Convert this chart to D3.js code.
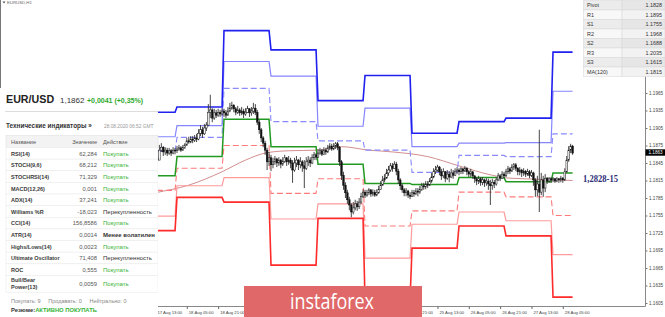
<!DOCTYPE html>
<html><head><meta charset="utf-8">
<script src="https://cdn.jsdelivr.net/npm/d3@7"></script>
<style>html,body{margin:0;padding:0;background:#fff;overflow:hidden}svg{display:block;font-family:"Liberation Sans",Arial,sans-serif}</style>
</head><body><svg id="c" width="665" height="317"></svg>
<script>
// ---------- DATA ----------
// hourly bars, trading-hour index t (17 Aug 00:00 = 0, each trading day = 24 bars)
const firstBar = 13;
const firstOpen = 1.1852;
const closes = [
1.1854,1.1850,1.1867,1.1872,1.1864,1.1867,1.1862,1.1866,1.1862,1.1867,1.1866,
1.1869,1.1871,1.1867,1.1872,1.1876,1.1883,1.1881,1.1886,1.1884,1.1888,1.1886,1.1896,1.1902,1.1895,1.1905,1.1910,1.1932,1.1936,1.1922,1.1931,1.1927,1.1932,1.1929,1.1934,
1.1931,1.1927,1.1934,1.1939,1.1944,1.1938,1.1932,1.1936,1.1931,1.1934,1.1929,1.1932,1.1938,1.1931,1.1934,1.1939,1.1932,1.1915,1.1902,1.1888,1.1879,1.1867,1.1847,1.1854,
1.1842,1.1847,1.1852,1.1845,1.1850,1.1843,1.1848,1.1854,1.1847,1.1850,1.1845,1.1833,1.1845,1.1850,1.1842,1.1847,1.1840,1.1836,1.1847,1.1850,1.1845,1.1854,1.1859,1.1855,
1.1862,1.1866,1.1860,1.1867,1.1864,1.1871,1.1874,1.1869,1.1874,1.1878,1.1872,1.1847,1.1824,1.1807,1.1794,1.1782,1.1773,1.1761,1.1768,1.1775,1.1770,1.1778,1.1788,1.1795,
1.1790,1.1794,1.1799,1.1792,1.1795,1.1790,1.1794,1.1800,1.1807,1.1816,1.1819,1.1828,1.1833,1.1840,1.1836,1.1843,1.1831,1.1816,1.1806,1.1799,1.1794,1.1797,1.1790,1.1788,
1.1794,1.1792,1.1797,1.1795,1.1800,1.1806,1.1804,1.1809,1.1807,1.1814,1.1821,1.1830,1.1833,1.1838,1.1830,1.1823,1.1830,1.1819,1.1826,1.1821,1.1828,1.1824,1.1831,1.1833,
1.1830,1.1835,1.1831,1.1836,1.1830,1.1826,1.1830,1.1823,1.1818,1.1814,1.1818,1.1812,1.1816,1.1811,1.1814,1.1809,1.1806,1.1812,1.1809,1.1816,1.1823,1.1819,1.1826,1.1823,
1.1830,1.1835,1.1831,1.1838,1.1842,1.1836,1.1830,1.1833,1.1828,1.1831,1.1826,1.1830,1.1824,1.1828,1.1816,1.1799,1.1809,1.1795,1.1816,1.1802,1.1819,1.1814,1.1818,1.1816,
1.1818,1.1814,1.1818,1.1816,1.1819,1.1816,1.1830,1.1850,1.1867,1.1874,1.1862];
const highs = [
1.1864,1.1867,1.1876,1.1879,1.1874,1.1872,1.1871,1.1871,1.1869,1.1872,1.1871,
1.1874,1.1876,1.1874,1.1876,1.1879,1.1888,1.1890,1.1891,1.1891,1.1893,1.1895,1.1903,1.1910,1.1907,1.1912,1.1915,1.1946,1.1962,1.1939,1.1938,1.1936,1.1938,1.1936,1.1939,
1.1938,1.1936,1.1941,1.1948,1.1950,1.1946,1.1941,1.1943,1.1939,1.1941,1.1938,1.1939,1.1943,1.1939,1.1941,1.1948,1.1946,1.1936,1.1919,1.1905,1.1891,1.1883,1.1871,1.1864,
1.1859,1.1854,1.1857,1.1854,1.1855,1.1852,1.1855,1.1859,1.1855,1.1857,1.1854,1.1850,1.1854,1.1857,1.1852,1.1855,1.1850,1.1850,1.1855,1.1857,1.1855,1.1860,1.1864,1.1862,
1.1869,1.1871,1.1869,1.1872,1.1871,1.1876,1.1879,1.1878,1.1879,1.1881,1.1881,1.1874,1.1850,1.1830,1.1812,1.1799,1.1787,1.1776,1.1778,1.1782,1.1780,1.1785,1.1794,1.1800,
1.1799,1.1799,1.1802,1.1800,1.1800,1.1799,1.1800,1.1806,1.1814,1.1823,1.1826,1.1835,1.1840,1.1845,1.1845,1.1848,1.1847,1.1835,1.1819,1.1809,1.1802,1.1802,1.1799,1.1795,
1.1799,1.1799,1.1802,1.1802,1.1806,1.1811,1.1811,1.1814,1.1814,1.1819,1.1828,1.1836,1.1840,1.1842,1.1840,1.1835,1.1836,1.1831,1.1833,1.1831,1.1835,1.1833,1.1836,1.1838,
1.1836,1.1838,1.1836,1.1840,1.1838,1.1833,1.1835,1.1831,1.1824,1.1821,1.1823,1.1821,1.1821,1.1818,1.1819,1.1818,1.1816,1.1818,1.1816,1.1821,1.1828,1.1826,1.1831,1.1830,
1.1835,1.1840,1.1838,1.1843,1.1845,1.1845,1.1838,1.1838,1.1835,1.1836,1.1833,1.1835,1.1833,1.1833,1.1830,1.1819,1.1823,1.1902,1.1828,1.1823,1.1826,1.1821,1.1821,1.1821,
1.1821,1.1819,1.1821,1.1819,1.1823,1.1821,1.1836,1.1857,1.1874,1.1878,1.1876];
const lows = [
1.1847,1.1833,1.1850,1.1864,1.1857,1.1859,1.1857,1.1859,1.1857,1.1860,1.1860,
1.1862,1.1866,1.1864,1.1866,1.1869,1.1874,1.1878,1.1879,1.1879,1.1881,1.1881,1.1884,1.1891,1.1888,1.1893,1.1900,1.1908,1.1922,1.1915,1.1919,1.1922,1.1924,1.1924,1.1926,
1.1924,1.1922,1.1926,1.1932,1.1936,1.1932,1.1927,1.1929,1.1926,1.1927,1.1922,1.1926,1.1931,1.1924,1.1926,1.1929,1.1927,1.1910,1.1895,1.1881,1.1872,1.1859,1.1833,1.1840,
1.1831,1.1836,1.1842,1.1838,1.1840,1.1836,1.1840,1.1845,1.1840,1.1842,1.1836,1.1811,1.1830,1.1838,1.1833,1.1836,1.1830,1.1802,1.1833,1.1840,1.1838,1.1843,1.1850,1.1850,
1.1854,1.1859,1.1857,1.1859,1.1859,1.1862,1.1867,1.1866,1.1867,1.1869,1.1867,1.1840,1.1816,1.1799,1.1785,1.1775,1.1764,1.1752,1.1757,1.1764,1.1763,1.1766,1.1775,1.1785,
1.1785,1.1787,1.1790,1.1787,1.1788,1.1787,1.1788,1.1792,1.1799,1.1806,1.1812,1.1818,1.1823,1.1830,1.1830,1.1835,1.1824,1.1809,1.1799,1.1794,1.1788,1.1788,1.1785,1.1783,
1.1787,1.1787,1.1790,1.1788,1.1792,1.1797,1.1799,1.1800,1.1802,1.1806,1.1811,1.1819,1.1826,1.1830,1.1824,1.1816,1.1819,1.1812,1.1816,1.1812,1.1819,1.1818,1.1823,1.1826,
1.1824,1.1826,1.1826,1.1830,1.1824,1.1821,1.1821,1.1818,1.1811,1.1807,1.1809,1.1806,1.1807,1.1804,1.1806,1.1799,1.1773,1.1799,1.1802,1.1806,1.1814,1.1814,1.1818,1.1818,
1.1821,1.1826,1.1826,1.1830,1.1833,1.1831,1.1824,1.1824,1.1821,1.1823,1.1821,1.1823,1.1819,1.1821,1.1806,1.1787,1.1788,1.1761,1.1790,1.1787,1.1795,1.1809,1.1811,1.1811,
1.1812,1.1811,1.1812,1.1811,1.1812,1.1811,1.1814,1.1828,1.1847,1.1862,1.1859];

// daily pivot levels, 17,18,19,20,21,24,25,26,27,28 Aug
const lastBar = 226;
const pivR3 = [1.1932,1.1941,1.2072,1.2039,1.1952,1.1995,1.1896,1.1916,1.1922,1.2035];
const pivR2 = [1.1890,1.1909,1.2019,1.1994,1.1908,1.1939,1.1873,1.1879,1.1880,1.1968];
const pivR1 = [1.1865,1.1889,1.1973,1.1916,1.1883,1.1867,1.1829,1.1858,1.1856,1.1895];
const pivP  = [1.1823,1.1856,1.1920,1.1873,1.1843,1.1810,1.1808,1.1820,1.1813,1.1828];
const pivS1 = [1.1798,1.1836,1.1875,1.1793,1.1818,1.1737,1.1763,1.1795,1.1787,1.1755];
const pivS2 = [1.1754,1.1806,1.1820,1.1749,1.1775,1.1682,1.1740,1.1761,1.1746,1.1688];
const pivS3 = [1.1729,1.1786,1.1778,1.1670,1.1750,1.1610,1.1699,1.1737,1.1720,1.1615];

// MA(120) readings
const maT = [0,13,30,47,59,69,81,96,108,122,134,152,168,185,194,211,226];
const maV = [1.1785,1.1794,1.1807,1.1830,1.1850,1.1862,1.1866,1.1867,1.1873,1.1867,1.1864,1.1856,1.1840,1.1824,1.1819,1.1817,1.1815];

// axes
const yTicks = [1.1605,1.1635,1.1665,1.1695,1.1725,1.1755,1.1785,1.1815,1.1845,1.1875,1.1905,1.1935,1.1965];
const xTickT = [13,29,45,61,77,93,109,125,141,157,173,189,205,221];
const xTickLabels = ["17 Aug 13:00","18 Aug 05:00","18 Aug 21:00","19 Aug 13:00","20 Aug 05:00","20 Aug 21:00","21 Aug 13:00","24 Aug 05:00","24 Aug 21:00","25 Aug 13:00","26 Aug 05:00","26 Aug 21:00","27 Aug 13:00","28 Aug 05:00"];
const currentPrice = "1.1863";

// left panel
const indNames = ["RSI(14)","STOCH(9,6)","STOCHRSI(14)","MACD(12,26)","ADX(14)","Williams %R","CCI(14)","ATR(14)","Highs/Lows(14)","Ultimate Oscillator","ROC","Bull/Bear Power(13)"];
const indValues = ["62,284","68,212","71,329","0,001","37,241","-18,023","156,8586","0,0014","0,0023","71,408","0,555","0,0059"];
const indActions = ["Покупать","Покупать","Покупать","Покупать","Покупать","Перекупленность","Покупать","Менее волатилен","Покупать","Перекупленность","Покупать","Покупать"];

// pivot table
const tblNames = ["Pivot","R1","S1","R2","S2","R3","S3","MA(120)"];
const tblValues = ["1.1828","1.1895","1.1755","1.1968","1.1688","1.2035","1.1615","1.1815"];

// ---------- DRAW ----------
const svg = d3.select("#c");
const x = d3.scaleLinear().domain([0, lastBar]).range([130, 572.6]);
const y = d3.scaleLinear().domain([1.1605, 1.1965]).range([303, 93]);
const logo = {x0:244, x1:422, y0:286};

svg.append("rect").attr("width",665).attr("height",317).attr("fill","#fff");

// MA
svg.append("path").datum(maT.map((t,i)=>[t,maV[i]]))
  .attr("d", d3.line().x(d=>x(d[0])).y(d=>y(d[1])).curve(d3.curveMonotoneX))
  .attr("fill","none").attr("stroke","#c97a7a").attr("stroke-width",1).attr("opacity",0.85);

// pivot lines
function stepPts(arr){
  const pts=[];
  arr.forEach((v,d)=>{ const s=24*d, e = d===arr.length-1 ? lastBar : 24*d+23; pts.push([s,v],[e,v]); });
  return pts;
}
const levels = [
  {a:pivR2, c:"#8585ff", w:1.2},
  {a:pivR1, c:"#8a8aff", w:1.1, dash:"6,3"},
  {a:pivS1, c:"#ff7b7b", w:1.1, dash:"6,3"},
  {a:pivS2, c:"#ff9b9b", w:1.2},
  {a:pivR3, c:"#2020f0", w:1.6},
  {a:pivS3, c:"#ff2a2a", w:1.6},
  {a:pivP,  c:"#229a22", w:1.5}
];
const ln = d3.line().x(d=>x(d[0])).y(d=>y(d[1]));
levels.forEach(L=>{
  svg.append("path").datum(stepPts(L.a)).attr("d",ln).attr("fill","none")
    .attr("stroke",L.c).attr("stroke-width",L.w).attr("stroke-dasharray",L.dash||null);
});

// candles
const bars = closes.map((c,i)=>({t:firstBar+i, o: i===0?firstOpen:closes[i-1], h:highs[i], l:lows[i], c}));
const cg = svg.append("g");
cg.selectAll("line.w").data(bars).join("line").attr("class","w")
  .attr("x1",d=>x(d.t)).attr("x2",d=>x(d.t))
  .attr("y1",d=>y(Math.max(d.h,d.o,d.c))).attr("y2",d=>y(Math.min(d.l,d.o,d.c)))
  .attr("stroke","#333").attr("stroke-width",0.9);
cg.selectAll("rect.b").data(bars).join("rect").attr("class","b")
  .attr("x",d=>x(d.t)-0.8).attr("width",1.6)
  .attr("y",d=>y(Math.max(d.o,d.c))).attr("height",d=>Math.max(0.8, y(Math.min(d.o,d.c))-y(Math.max(d.o,d.c))))
  .attr("fill",d=>d.c>=d.o?"#fff":"#111").attr("stroke","#111").attr("stroke-width",0.5);

// right axis
svg.append("line").attr("x1",645.5).attr("x2",645.5).attr("y1",0).attr("y2",306.5).attr("stroke","#888");
const ya = svg.append("g").attr("transform","translate(645.5,0)")
  .call(d3.axisRight(y).tickValues(yTicks).tickSize(2).tickFormat(d3.format(".4f")));
ya.select(".domain").remove();
ya.selectAll("line").attr("stroke","#777");
ya.selectAll("text").attr("font-size","4.6px").attr("fill","#444").attr("x",3.5).attr("font-family","Liberation Sans, Arial");

// bottom axis (labels lying under the badge are covered in the original)
svg.append("line").attr("x1",0).attr("x2",645.5).attr("y1",306.5).attr("y2",306.5).attr("stroke","#888");
const xa = svg.append("g").attr("transform","translate(0,306.5)")
  .call(d3.axisBottom(x).tickValues(xTickT).tickSize(2.5).tickFormat((d,i)=>xTickLabels[i]));
xa.select(".domain").remove();
xa.selectAll("line").attr("stroke","#666");
xa.selectAll("text").attr("font-size","4.2px").attr("fill","#444").attr("text-anchor","start")
  .attr("x",1.5).attr("dy",0).attr("y",7).attr("font-family","Liberation Sans, Arial");
xa.selectAll(".tick").filter(d=>x(d)>logo.x0-25 && x(d)<logo.x1-18).select("text").remove();

// current price tag
svg.append("rect").attr("x",645.5).attr("y",y(+currentPrice)-3.2).attr("width",19.5).attr("height",6.4).attr("fill","#000");
svg.append("text").attr("x",648.5).attr("y",y(+currentPrice)+1.6).text(currentPrice)
  .attr("font-size","4.6px").attr("fill","#fff");

// pivot annotation
svg.append("text").attr("x",583).attr("y",182).text("1,2828-15")
  .attr("font-family","Liberation Serif, Times New Roman, serif").attr("font-size","10px").attr("font-weight","bold")
  .attr("fill","#2d2d78").attr("textLength",35).attr("lengthAdjust","spacingAndGlyphs");

// chart frame / symbol label
svg.append("line").attr("x1",0.5).attr("x2",0.5).attr("y1",0).attr("y2",317).attr("stroke","#777");
svg.append("path").attr("d","M2.5,1.5 L5.5,1.5 L4,3.5 Z").attr("fill","#555");
svg.append("text").attr("x",7).attr("y",4).text("EURUSD,H1").attr("font-size","4.3px").attr("fill","#666");

// left panel
const P = svg.append("g");
P.append("rect").attr("x",0).attr("y",88).attr("width",158).attr("height",229).attr("fill","#fff");
P.append("text").attr("x",6).attr("y",103).text("EUR/USD").attr("font-size","10.7px").attr("font-weight","bold").attr("fill","#222");
P.append("text").attr("x",60).attr("y",102.5).text("1,1862").attr("font-size","8px").attr("fill","#333");
P.append("text").attr("x",87).attr("y",102.5).text("+0,0041 (+0,35%)").attr("font-size","7px").attr("font-weight","bold").attr("fill","#2da82d");
P.append("line").attr("x1",5).attr("x2",158).attr("y1",111.5).attr("y2",111.5).attr("stroke","#ddd");
P.append("text").attr("x",6).attr("y",128).text("Технические индикаторы »").attr("font-size","6.4px").attr("font-weight","bold").attr("fill","#333");
P.append("text").attr("x",104).attr("y",127.5).text("28.08.2020 06:52 GMT").attr("font-size","4.8px").attr("fill","#999");
P.append("rect").attr("x",6).attr("y",135.5).attr("width",152).attr("height",12).attr("fill","#f3f3f3").attr("stroke","#e0e0e0").attr("stroke-width",0.6);
P.append("text").attr("x",11).attr("y",144).text("Название").attr("font-size","5.6px").attr("fill","#555");
P.append("text").attr("x",97).attr("y",144).text("Значение").attr("font-size","5.6px").attr("fill","#555").attr("text-anchor","end");
P.append("text").attr("x",103).attr("y",144).text("Действие").attr("font-size","5.6px").attr("fill","#555");
const clip = svg.append("clipPath").attr("id","pc");
clip.append("rect").attr("x",0).attr("y",88).attr("width",158).attr("height",229);
const rows = P.append("g").attr("clip-path","url(#pc)");
indNames.forEach((n,i)=>{
  const top = 147.5 + i*11.63;
  const h = i===indNames.length-1 ? 17 : 11.63;
  rows.append("rect").attr("x",6).attr("y",top).attr("width",152).attr("height",h).attr("fill","#fff").attr("stroke","#ebebeb").attr("stroke-width",0.6);
  const base = top + 8.2;
  if (i===indNames.length-1) {
    rows.append("text").attr("x",11).attr("y",top+6.8).text("Bull/Bear").attr("font-size","5.5px").attr("font-weight","bold").attr("fill","#3a3a3a");
    rows.append("text").attr("x",11).attr("y",top+13.3).text("Power(13)").attr("font-size","5.5px").attr("font-weight","bold").attr("fill","#3a3a3a");
    rows.append("text").attr("x",97).attr("y",top+11).text(indValues[i]).attr("font-size","5.8px").attr("fill","#555").attr("text-anchor","end");
    rows.append("text").attr("x",103).attr("y",top+11).text(indActions[i]).attr("font-size","6px").attr("fill","#36b336");
  } else {
    rows.append("text").attr("x",11).attr("y",base).text(n).attr("font-size","5.5px").attr("font-weight","bold").attr("fill","#3a3a3a");
    rows.append("text").attr("x",97).attr("y",base).text(indValues[i]).attr("font-size","5.8px").attr("fill","#555").attr("text-anchor","end");
    const buy = indActions[i]==="Покупать";
    rows.append("text").attr("x",103).attr("y",base).text(indActions[i]).attr("font-size","6px")
      .attr("font-weight", indActions[i]==="Менее волатилен" ? "bold" : "normal")
      .attr("fill", buy ? "#36b336" : "#333");
  }
});
P.append("text").attr("x",11).attr("y",303).attr("font-size","5.5px").attr("fill","#888")
  .text("Покупать: 9     Продавать: 0     Нейтрально: 0").style("white-space","pre");
const rz = P.append("text").attr("x",11).attr("y",311.5).attr("font-size","5.8px").attr("font-weight","bold");
rz.append("tspan").text("Резюме:").attr("fill","#333");
rz.append("tspan").text("АКТИВНО ПОКУПАТЬ").attr("fill","#36b336");

// pivot table (top right)
const T = svg.append("g");
T.append("rect").attr("x",583).attr("y",0).attr("width",82).attr("height",76).attr("fill","#fff");
tblNames.forEach((n,i)=>{
  const top = i*9.5;
  T.append("rect").attr("x",583.5).attr("y",top+0.5).attr("width",38.5).attr("height",9.5).attr("fill", i%2===0?"#ececec":"#f8f8f8").attr("stroke","#d6d6d6").attr("stroke-width",0.5);
  T.append("rect").attr("x",622).attr("y",top+0.5).attr("width",43).attr("height",9.5).attr("fill", i%2===0?"#e6e6e6":"#f2f2f2").attr("stroke","#d6d6d6").attr("stroke-width",0.5);
  T.append("text").attr("x",587).attr("y",top+7).text(n).attr("font-size","5.4px").attr("fill","#333");
  T.append("text").attr("x",662).attr("y",top+7).text(tblValues[i]).attr("font-size","5.4px").attr("fill","#333").attr("text-anchor","end");
});

// instaforex badge
svg.append("rect").attr("x",logo.x0).attr("y",logo.y0).attr("width",logo.x1-logo.x0).attr("height",317-logo.y0).attr("fill","#e06868");
svg.append("text").attr("x",290).attr("y",308.5).text("instaforex").attr("font-family","Open Sans, Liberation Sans, sans-serif")
  .attr("font-size","21px").attr("fill","#fff").attr("textLength",84).attr("lengthAdjust","spacingAndGlyphs");
</script></body></html>
